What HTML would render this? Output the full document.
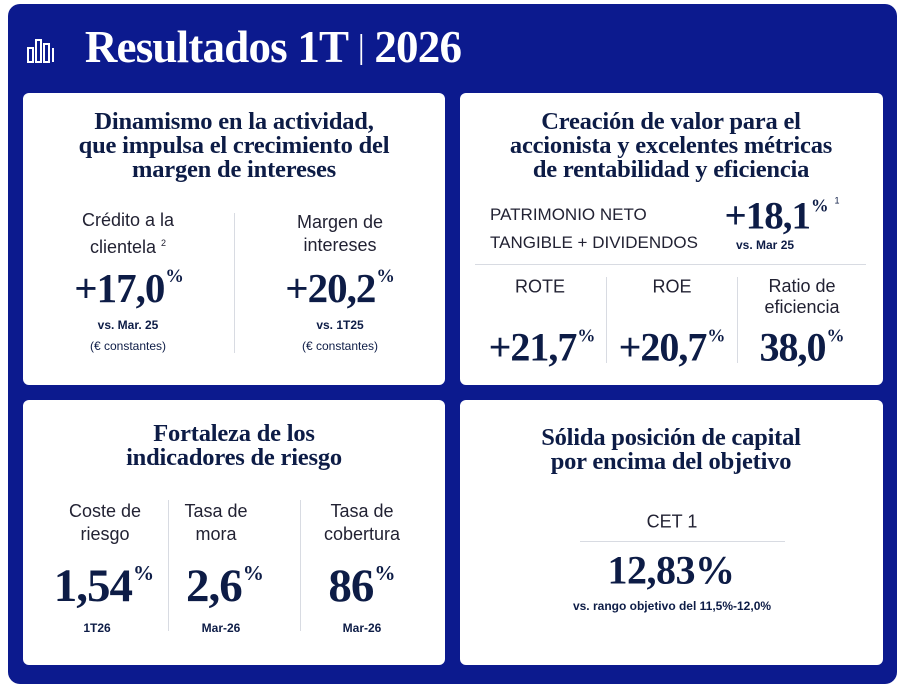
<!DOCTYPE html>
<html><head><meta charset="utf-8"><style>
html,body{margin:0;padding:0;}
body{width:911px;height:692px;background:#fff;position:relative;overflow:hidden;font-family:"Liberation Sans",sans-serif;color:#0d1c46;}
.frame{position:absolute;left:8px;top:4px;width:889px;height:680px;background:#0c1a8e;border-radius:12px;}
.card{position:absolute;background:#fff;border-radius:6px;}
.t{position:absolute;white-space:nowrap;transform:translate(-50%,-50%);text-align:center;}
.ttl{font-family:"Liberation Serif",serif;font-weight:bold;font-size:24.5px;letter-spacing:-0.2px;line-height:24px;}
.lbl{font-size:18px;font-weight:300;color:#223;line-height:23px;}
.big{font-family:"Liberation Serif",serif;font-weight:bold;letter-spacing:-1px;}
.big sup{font-size:45%;letter-spacing:0;vertical-align:top;position:relative;top:2px;margin-left:1px;}
.sm{font-size:12px;font-weight:bold;}
.sm2{font-size:12px;}
.vl{position:absolute;width:1px;background:#d8dbe2;}
.hl{position:absolute;height:1px;background:#d8dbe2;}
</style></head><body>
<div class="frame"></div>
<svg style="position:absolute;left:27px;top:36px" width="30" height="28">
<rect x="1" y="12" width="5" height="14" fill="none" stroke="#fff" stroke-width="2"/>
<rect x="9" y="4" width="5" height="22" fill="none" stroke="#fff" stroke-width="2"/>
<rect x="17" y="8" width="5" height="18" fill="none" stroke="#fff" stroke-width="2"/>
<rect x="25" y="12" width="2" height="14" fill="#fff"/>
</svg>
<div class="t" style="left:273px;top:47px;color:#fff;font-family:'Liberation Serif',serif;font-weight:bold;font-size:45px;letter-spacing:-0.8px">Resultados 1T <span style="font-weight:normal;font-size:34px;position:relative;top:-4px">|</span> 2026</div>

<div class="card" style="left:23px;top:93px;width:422px;height:292px"></div>
<div class="t ttl" style="left:234px;top:146px">Dinamismo en la actividad,<br>que impulsa el crecimiento del<br>margen de intereses</div>
<div class="t lbl" style="left:128px;top:234px">Crédito a la<br>clientela <sup style="font-size:9px">2</sup></div>
<div class="t big" style="left:129px;top:288px;font-size:41px">+17,0<sup>%</sup></div>
<div class="t sm" style="left:128px;top:325px">vs. Mar. 25</div>
<div class="t sm2" style="left:128px;top:346px">(€ constantes)</div>
<div class="vl" style="left:234px;top:213px;height:140px"></div>
<div class="t lbl" style="left:340px;top:234px">Margen de<br>intereses</div>
<div class="t big" style="left:340px;top:288px;font-size:41px">+20,2<sup>%</sup></div>
<div class="t sm" style="left:340px;top:325px">vs. 1T25</div>
<div class="t sm2" style="left:340px;top:346px">(€ constantes)</div>

<div class="card" style="left:460px;top:93px;width:423px;height:292px"></div>
<div class="t ttl" style="left:671px;top:146px">Creación de valor para el<br>accionista y excelentes métricas<br>de rentabilidad y eficiencia</div>
<div class="lbl" style="position:absolute;left:490px;top:201px;font-size:17px;line-height:28px;white-space:nowrap">PATRIMONIO NETO<br>TANGIBLE + DIVIDENDOS</div>
<div class="t big" style="left:782px;top:216px;font-size:39px">+18,1<sup>%</sup><sup style="font-size:9px;font-family:'Liberation Sans';font-weight:normal;margin-left:6px">1</sup></div>
<div class="sm" style="position:absolute;left:736px;top:238px">vs. Mar 25</div>
<div class="hl" style="left:475px;top:264px;width:391px"></div>
<div class="t lbl" style="left:540px;top:287px">ROTE</div>
<div class="t lbl" style="left:672px;top:287px">ROE</div>
<div class="t lbl" style="left:802px;top:297px;line-height:21px">Ratio de<br>eficiencia</div>
<div class="vl" style="left:606px;top:277px;height:86px"></div>
<div class="vl" style="left:737px;top:277px;height:86px"></div>
<div class="t big" style="left:542px;top:347px;font-size:40px">+21,7<sup>%</sup></div>
<div class="t big" style="left:672px;top:347px;font-size:40px">+20,7<sup>%</sup></div>
<div class="t big" style="left:802px;top:347px;font-size:40px">38,0<sup>%</sup></div>

<div class="card" style="left:23px;top:400px;width:422px;height:265px"></div>
<div class="t ttl" style="left:234px;top:446px">Fortaleza de los<br>indicadores de riesgo</div>
<div class="t lbl" style="left:105px;top:523px">Coste de<br>riesgo</div>
<div class="t lbl" style="left:216px;top:523px">Tasa de<br>mora</div>
<div class="t lbl" style="left:362px;top:523px">Tasa de<br>cobertura</div>
<div class="vl" style="left:168px;top:500px;height:131px"></div>
<div class="vl" style="left:300px;top:500px;height:131px"></div>
<div class="t big" style="left:104px;top:586px;font-size:47px">1,54<sup>%</sup></div>
<div class="t big" style="left:225px;top:586px;font-size:47px">2,6<sup>%</sup></div>
<div class="t big" style="left:362px;top:586px;font-size:47px">86<sup>%</sup></div>
<div class="t sm" style="left:97px;top:628px">1T26</div>
<div class="t sm" style="left:221px;top:628px">Mar-26</div>
<div class="t sm" style="left:362px;top:628px">Mar-26</div>

<div class="card" style="left:460px;top:400px;width:423px;height:265px"></div>
<div class="t ttl" style="left:671px;top:450px">Sólida posición de capital<br>por encima del objetivo</div>
<div class="t lbl" style="left:672px;top:522px">CET 1</div>
<div class="hl" style="left:580px;top:541px;width:205px"></div>
<div class="t big" style="left:671px;top:570px;font-size:40px;letter-spacing:-0.5px">12,83%</div>
<div class="t sm" style="left:672px;top:606px">vs. rango objetivo del 11,5%-12,0%</div>
</body></html>
